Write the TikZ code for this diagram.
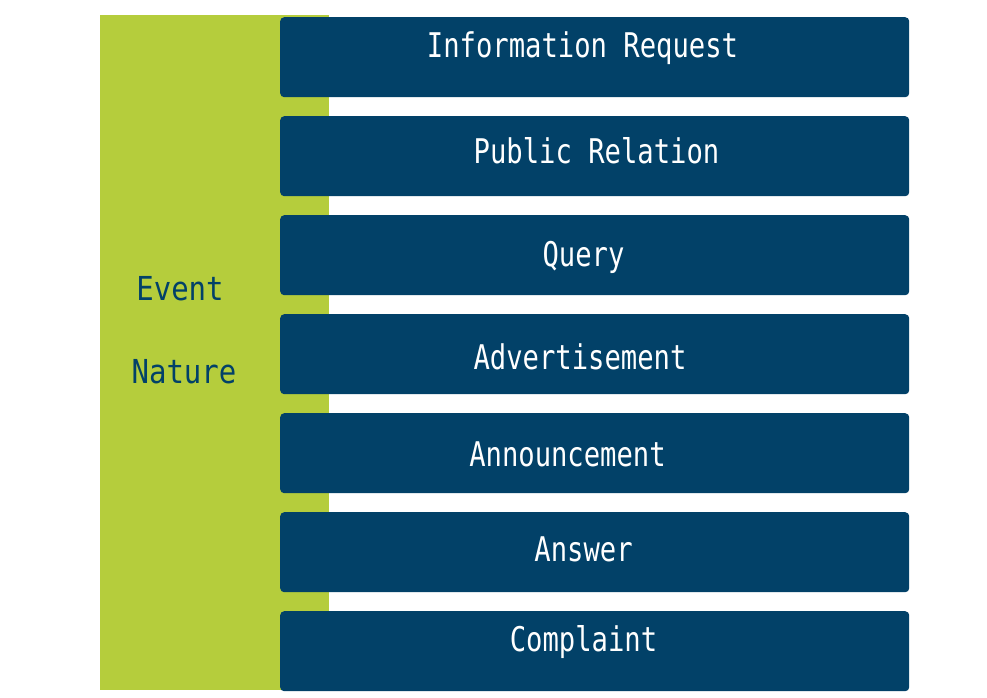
\documentclass[tikz,border=0pt]{standalone}
\usepackage{fontspec}
\newfontfamily\lblfont[FakeStretch=0.80]{DejaVu Sans Mono}
\newfontfamily\sidefont[FakeStretch=0.88]{DejaVu Sans Mono}
\definecolor{leaf}{RGB}{181,205,60}
\definecolor{navy}{RGB}{2,65,104}
\begin{document}
\begin{tikzpicture}[x=1pt,y=-1pt,
  rowbox/.style={fill=navy,draw=none,rounded corners=4pt,minimum width=629pt,minimum height=80pt,anchor=north west,inner sep=0pt},
  rowtext/.style={text=white,font=\lblfont\fontsize{34}{36}\selectfont,anchor=base,inner sep=0pt},
  sidetext/.style={text=navy,font=\sidefont\fontsize{33}{36}\selectfont,anchor=base,inner sep=0pt}]
\useasboundingbox (0,0) rectangle (987,698);
\node[fill=leaf,draw=none,minimum width=229pt,minimum height=675pt,anchor=north west,inner sep=0pt] (side) at (100,15) {};
\node[rowbox] (b1) at (280,17) {};
\node[rowbox] (b2) at (280,116) {};
\node[rowbox] (b3) at (280,215) {};
\node[rowbox] (b4) at (280,314) {};
\node[rowbox] (b5) at (280,413) {};
\node[rowbox] (b6) at (280,512) {};
\node[rowbox] (b7) at (280,611) {};
\node[rowtext] (t1) at (582.5,58) {Information Request};
\node[rowtext] (t2) at (596.5,163) {Public Relation};
\node[rowtext] (t3) at (583.5,266) {Query};
\node[rowtext] (t4) at (580,369) {Advertisement};
\node[rowtext] (t5) at (567.5,466) {Announcement};
\node[rowtext] (t6) at (583.5,561) {Answer};
\node[rowtext] (t7) at (583.5,651) {Complaint};
\node[sidetext] (s1) at (180,300) {Event};
\node[sidetext] (s2) at (184,383) {Nature};
\end{tikzpicture}
\end{document}
